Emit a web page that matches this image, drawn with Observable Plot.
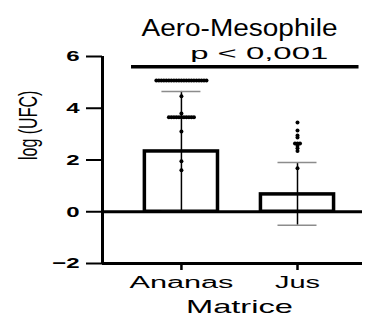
<!DOCTYPE html>
<html><head><meta charset="utf-8">
<script src="https://cdn.jsdelivr.net/npm/d3@7"></script>
<script src="https://cdn.jsdelivr.net/npm/@observablehq/plot@0.6"></script>
<style>body{margin:0;background:#fff}svg{font-family:"Liberation Sans",Arial,sans-serif}</style>
</head><body><div id="chart"></div>
<script>
// ---- data ----
const categories = ["Ananas", "Jus"];
const means = [2.33, 0.67];
const sdUpper = [2.32, 1.23];
const sdLower = [2.32, 1.19];
const ananasPoints = [
  5.07,5.07,5.07,5.07,5.07,5.07,5.07,5.07,5.07,5.07,5.07,5.07,5.07,5.07,5.07,5.07,5.07,5.07,5.07,5.07,5.07,
  4.46, 3.8,
  3.65,3.65,3.65,3.65,3.65,3.65,3.65,3.65,3.65,3.65,3.65,
  3.1, 1.95, 1.6
];
const jusPoints = [3.45, 3.14, 2.95, 2.87, 2.64, 2.64, 2.64, 2.55, 2.45, 2.35, 1.68];
const yTicks = [-2, 0, 2, 4, 6];
const titleText = "Aero-Mesophile";
const pText = "p < 0,001";
const xLabel = "Matrice";
const yLabel = "log (UFC)";
const pLineY = 5.6, pLineFrom = -0.43, pLineTo = 1.53, pTextX = 0.67;

// ---- build tables ----
const bars = categories.map((c, i) => ({i, c, mean: means[i], lo: means[i] - sdLower[i], hi: means[i] + sdUpper[i]}));
const spread = 0.0216; // horizontal spread of coincident points (data units)
function scatter(vals, i) {
  const groups = d3.group(vals, v => v);
  const out = [];
  for (const [v, arr] of groups) arr.forEach((_, k) => out.push({x: i + (k - (arr.length - 1) / 2) * spread, y: v}));
  return out;
}
const pts = [...scatter(ananasPoints, 0), ...scatter(jusPoints, 1)];
const xDom = [-0.68, 1.56];
const halfBar = 0.315, halfCap = 0.168;
// horizontal stretch of texts in the exported reference
const textWidths = {[titleText]: 196, [pText]: 138, [xLabel]: 107, "Ananas": 104, "Jus": 45};

const plot = Plot.plot({
  width: 385, height: 318,
  marginLeft: 102, marginRight: 23, marginTop: 56, marginBottom: 55,
  style: {fontFamily: "Liberation Sans, Arial, sans-serif", background: "white", overflow: "visible"},
  x: {domain: xDom, axis: null},
  y: {domain: [-2, 6], axis: null},
  marks: [
    Plot.rectY(bars, {x1: d => d.i - halfBar, x2: d => d.i + halfBar, y1: 0, y2: "mean", fill: "white", stroke: "black", strokeWidth: 3.5}),
    Plot.ruleX(bars, {x: "i", y1: "lo", y2: "hi", stroke: "black", strokeWidth: 1.5}),
    Plot.ruleY(bars, {y: "hi", x1: d => d.i - halfCap, x2: d => d.i + halfCap, stroke: "#8c8c8c", strokeWidth: 1.5}),
    Plot.ruleY(bars, {y: "lo", x1: d => d.i - halfCap, x2: d => d.i + halfCap, stroke: "#8c8c8c", strokeWidth: 1.5}),
    Plot.ruleY([0], {x1: xDom[0], x2: xDom[1], stroke: "black", strokeWidth: 3}),
    Plot.dot(pts, {x: "x", y: "y", r: 2, fill: "black", stroke: "none"}),
    // axes
    Plot.ruleX([xDom[0]], {y1: -2, y2: 6, stroke: "black", strokeWidth: 3}),
    Plot.ruleY([-2], {x1: xDom[0], x2: xDom[1], stroke: "black", strokeWidth: 3}),
    Plot.axisY(yTicks, {anchor: "left", tickSize: 16, tickPadding: 7, strokeWidth: 2, fontSize: 15, fontWeight: "bold", label: null}),
    Plot.axisX([0, 1], {anchor: "bottom", tickSize: 7, tickPadding: 6, strokeWidth: 2.5, fontSize: 16, label: null, tickFormat: i => categories[i]}),
    // annotation
    Plot.ruleY([pLineY], {x1: pLineFrom, x2: pLineTo, stroke: "black", strokeWidth: 3.5}),
    Plot.text([pText], {x: [pTextX], frameAnchor: "top", dy: -10, fontSize: 17}),
    Plot.text([titleText], {x: [0.5], frameAnchor: "top", dy: -37, fontSize: 23}),
    Plot.text([xLabel], {x: [0.5], frameAnchor: "bottom", dy: 49, fontSize: 19}),
    Plot.text([yLabel], {frameAnchor: "left", dx: -74, rotate: -90, fontSize: 16})
  ]
});
document.getElementById("chart").appendChild(plot);
plot.querySelectorAll("text").forEach(t => {
  const tr = t.getAttribute("transform") || "";
  if (tr.includes("rotate")) {
    t.setAttribute("transform", tr.replace("rotate(", "scale(1.6,1) rotate("));
    return;
  }
  const s = t.textContent;
  const w = t.getComputedTextLength();
  if (!(w > 0)) return;
  const target = textWidths[s] !== undefined ? textWidths[s] : w * 1.6;
  t.setAttribute("textLength", target);
  t.setAttribute("lengthAdjust", "spacingAndGlyphs");
});
</script>
</body></html>
